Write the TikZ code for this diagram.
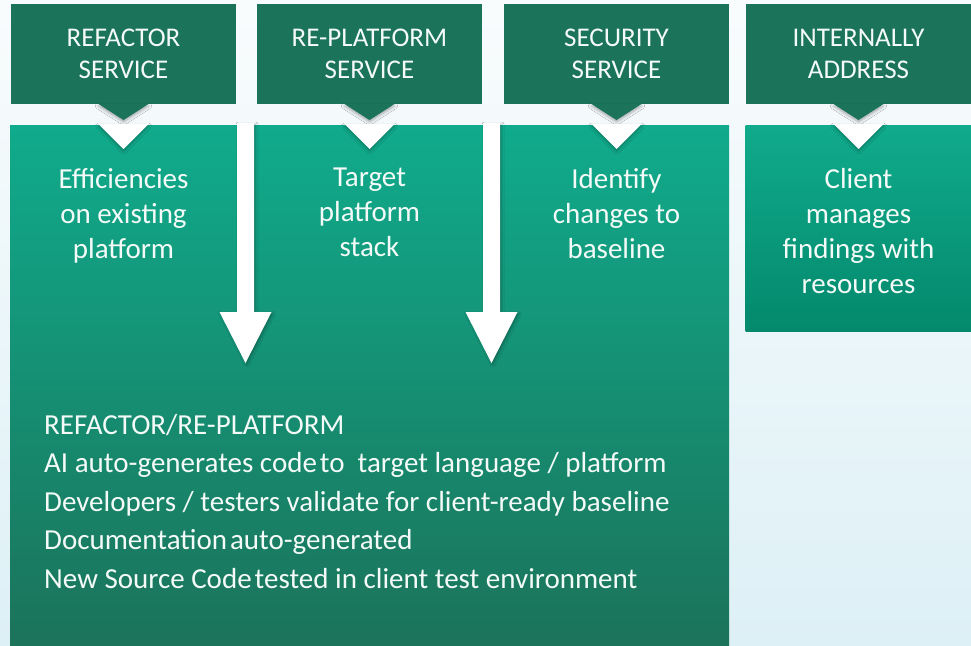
\documentclass[tikz,border=0pt]{standalone}
\usepackage{fontspec}
\setmainfont{Carlito}
\usepackage{tikz}
\usetikzlibrary{positioning, calc, shadows.blur}
\definecolor{hdrgreen}{HTML}{1B735A}
\definecolor{bodytop}{HTML}{10AB8C}
\definecolor{bodybot}{HTML}{1B735A}
\definecolor{sidebot}{HTML}{04896C}
\definecolor{txtwhite}{HTML}{F3FAF7}
\definecolor{bgtop}{HTML}{F9FCFD}
\definecolor{bgbot}{HTML}{DDF0F6}
\tikzset{
  header/.style={rectangle, fill=hdrgreen, minimum width=225pt, minimum height=100pt,
                 inner sep=0pt, outer sep=0pt, align=center, text=txtwhite,
                 font=\fontsize{27}{32}\selectfont},
  panel/.style={rectangle, inner sep=0pt, outer sep=0pt, top color=bodytop},
  paneltext/.style={align=center, text=txtwhite, inner sep=0pt,
                    font=\fontsize{29}{35}\selectfont},
  notes/.style={align=left, text=txtwhite, inner sep=0pt, anchor=north west,
                font=\fontsize{29}{38.5}\selectfont},
  chevron/.style={fill=hdrgreen, blur shadow={shadow xshift=0pt, shadow yshift=-2pt,
                  shadow blur radius=3pt, shadow opacity=35}},
  notch/.style={fill=white, blur shadow={shadow xshift=0pt, shadow yshift=-2pt,
                shadow blur radius=3pt, shadow opacity=30}},
  bigarrow/.style={fill=white, blur shadow={shadow xshift=1.5pt, shadow yshift=-1.5pt,
                   shadow blur radius=2.5pt, shadow opacity=30}}
}

\begin{document}
\begin{tikzpicture}[x=1pt, y=-1pt]
  \useasboundingbox (0,0) rectangle (971,645);
  \fill[top color=bgtop, bottom color=bgbot] (0,0) rectangle (971,645);

  % Panels
  \node[panel, bottom color=bodybot, minimum width=719pt, minimum height=520pt] (main) at (369.5,385) {};

  % Service headers
  \node[header] (hdr1) at (123.5,54) {REFACTOR\\SERVICE};
  \node[header, right=21pt of hdr1] (hdr2) {RE-PLATFORM\\SERVICE};
  \node[header, right=22pt of hdr2] (hdr3) {SECURITY\\SERVICE};
  \node[header, right=17pt of hdr3] (hdr4) {INTERNALLY\\ADDRESS};

  \node[panel, bottom color=sidebot, minimum width=226pt, minimum height=206pt, below=21pt of hdr4] (side) {};

  % Down arrows into the refactor block
  \foreach \c in {245.5, 491.5}
    \fill[bigarrow] (\c-8.5,123) -- (\c-8.5,312) -- (\c-26,312) -- (\c,363)
      -- (\c+26,312) -- (\c+8.5,312) -- (\c+8.5,123) -- cycle;

  % Chevrons under each header
  \foreach \h in {hdr1, hdr2, hdr3, hdr4} {
    \fill[chevron] ($(\h.south)+(-25,0)$) -- ($(\h.south)+(25,0)$) -- ($(\h.south)+(0,16)$) -- cycle;
    \fill[notch] ($(\h.south)+(-25,20)$) -- ($(\h.south)+(25,20)$) -- ($(\h.south)+(0,45)$) -- cycle;
  }

  % Panel texts
  \node[paneltext, below=64pt of hdr1] (eff) {Efficiencies\\on existing\\platform};
  \node[paneltext, below=64pt of hdr2] (tgt) {Target\\platform\\stack};
  \node[paneltext, below=64pt of hdr3] (idf) {Identify\\changes to\\baseline};
  \node[paneltext, below=64pt of hdr4] (cli) {Client\\manages\\findings with\\resources};

  \node[notes] (steps) at (44,414) {REFACTOR/RE-PLATFORM\\
    AI auto-generates code\hspace{3pt}to\hspace{13pt}target language / platform\\
    Developers / testers validate for client-ready baseline\\
    Documentation\hspace{3pt}auto-generated\\
    New Source Code\hspace{3pt}tested in client test environment};
\end{tikzpicture}
\end{document}
